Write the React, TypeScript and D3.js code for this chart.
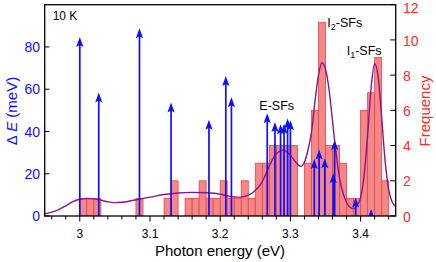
import React from "react";
import * as d3 from "d3";

// Histogram bins (start energy, eV) and counts (right axis, Frequency)
const binStarts = [3.00, 3.01, 3.02, 3.08, 3.12, 3.13, 3.15, 3.16, 3.17, 3.18, 3.19, 3.20, 3.21, 3.22, 3.23, 3.24, 3.25, 3.26, 3.27, 3.28, 3.29, 3.30, 3.32, 3.33, 3.34, 3.35, 3.36, 3.37, 3.38, 3.39, 3.40, 3.41, 3.42, 3.43];
const binCounts = [1, 1, 1, 1, 1, 2, 1, 1, 2, 1, 1, 2, 1, 1, 2, 1, 3, 3, 4, 4, 4, 4, 3, 6, 11, 4, 4, 3, 1, 1, 6, 7, 9, 2];
const binWidth = 0.01;

// Smoothed distribution curve (eV, Frequency)
const curveE = [2.95, 2.96, 2.97, 2.98, 2.99, 3.00, 3.01, 3.02, 3.03, 3.04, 3.05, 3.06, 3.07, 3.08, 3.09, 3.10, 3.12, 3.14, 3.16, 3.18, 3.20, 3.21, 3.22, 3.23, 3.24, 3.25, 3.26, 3.27, 3.28, 3.29, 3.30, 3.31, 3.315, 3.32, 3.325, 3.33, 3.335, 3.34, 3.345, 3.35, 3.355, 3.36, 3.365, 3.37, 3.375, 3.38, 3.385, 3.39, 3.395, 3.40, 3.405, 3.41, 3.415, 3.42, 3.425, 3.43, 3.435, 3.44, 3.445, 3.45];
const curveF = [0.12, 0.22, 0.36, 0.58, 0.82, 0.95, 0.99, 0.97, 0.9, 0.8, 0.76, 0.78, 0.84, 0.92, 1.0, 1.07, 1.22, 1.31, 1.34, 1.32, 1.24, 1.15, 1.08, 1.07, 1.18, 1.45, 1.95, 2.85, 3.55, 3.74, 3.45, 2.95, 2.82, 3.05, 3.75, 4.75, 6.5, 8.0, 8.7, 8.35, 7.2, 5.4, 3.6, 2.15, 1.3, 0.78, 0.5, 0.42, 0.6, 1.05, 2.3, 4.6, 7.3, 8.65, 7.9, 5.6, 3.1, 1.5, 0.8, 0.55];

// Transitions (eV, Delta E in meV)
const arrowE = [3.0, 3.027, 3.085, 3.13, 3.184, 3.208, 3.216, 3.267, 3.278, 3.286, 3.291, 3.296, 3.300, 3.334, 3.341, 3.349, 3.361, 3.363, 3.393, 3.415];
const arrowDE = [84.7, 58.4, 88.9, 53.7, 45.5, 66.3, 56.2, 48.6, 44.5, 43.4, 43.6, 46.2, 45.3, 27, 31.5, 27.3, 20.2, 36, 8.7, 3.3];

const xTicks = [3.0, 3.1, 3.2, 3.3, 3.4];
const xTickLabels = ["3", "3.1", "3.2", "3.3", "3.4"];
const leftTicks = [0, 20, 40, 60, 80];
const rightTicks = [0, 2, 4, 6, 8, 10, 12];

const W = 436, H = 262;
const L = 44.7, R = 395.7, T = 4.7, B = 216;
const FONT = "'Liberation Sans', Arial, Helvetica, sans-serif";
const BLUE = "#0f0fff";
const RED = "#ff2a2a";
const PURPLE = "#8a158a";

export default function App() {
  const x = d3.scaleLinear().domain([2.95, 3.45]).range([L, R]);
  const yL = d3.scaleLinear().domain([0, 100]).range([B, T]);
  const yR = d3.scaleLinear().domain([0, 12]).range([B, T]);

  const minorTicks = d3.range(2.96, 3.4501, 0.02).map((v) => +v.toFixed(2));
  const line = d3
    .line<number>()
    .x((_, i) => x(curveE[i]))
    .y((d) => yR(d))
    .curve(d3.curveMonotoneX);

  return (
    <svg width={W} height={H} style={{ position: "absolute", left: 0, top: 0, background: "#fff" }} fontFamily={FONT}>
      <defs>
        <clipPath id="plot">
          <rect x={L} y={T} width={R - L} height={B - T} />
        </clipPath>
      </defs>
      <g clipPath="url(#plot)">
        {binStarts.map((s, i) => (
          <rect
            key={i}
            x={x(s)}
            y={yR(binCounts[i])}
            width={x(s + binWidth) - x(s)}
            height={B - yR(binCounts[i])}
            fill="#f08a8a"
            stroke="#ff3b3b"
            strokeWidth={0.8}
          />
        ))}
        <path d={line(curveF) || ""} fill="none" stroke={PURPLE} strokeWidth={1.4} />
        {arrowE.map((e, i) => {
          const cx = x(e);
          const tip = yL(arrowDE[i]);
          return (
            <g key={i}>
              <line x1={cx} x2={cx} y1={B} y2={tip + 6} stroke={BLUE} strokeWidth={1.7} />
              <path
                d={`M${cx},${tip} L${cx + 3.6},${tip + 10} L${cx},${tip + 8} L${cx - 3.6},${tip + 10} Z`}
                fill={BLUE}
              />
            </g>
          );
        })}
      </g>

      {/* frame */}
      <rect x={L} y={T} width={R - L} height={B - T} fill="none" stroke="#000" strokeWidth={1.3} />

      {/* bottom ticks */}
      {xTicks.map((t, i) => (
        <g key={"xt" + i}>
          <line x1={x(t)} x2={x(t)} y1={B} y2={B + 5.5} stroke="#000" strokeWidth={1} />
          <text x={x(t)} y={238} textAnchor="middle" fontSize={12} fill="#000">
            {xTickLabels[i]}
          </text>
        </g>
      ))}
      {minorTicks
        .filter((t) => !xTicks.some((m) => Math.abs(m - t) < 1e-6))
        .map((t, i) => (
          <line key={"mx" + i} x1={x(t)} x2={x(t)} y1={B} y2={B + 3.5} stroke="#000" strokeWidth={1} />
        ))}

      {/* left ticks */}
      {leftTicks.map((t, i) => (
        <g key={"lt" + i}>
          <line x1={L} x2={L + 4.7} y1={yL(t)} y2={yL(t)} stroke="#000" strokeWidth={1} />
          <text x={40} y={yL(t)} dy="0.36em" textAnchor="end" fontSize={14} fill={BLUE}>
            {t}
          </text>
        </g>
      ))}

      {/* right ticks */}
      {rightTicks.map((t, i) => (
        <g key={"rt" + i}>
          <line x1={R - 5.5} x2={R} y1={yR(t)} y2={yR(t)} stroke="#000" strokeWidth={1} />
          <text x={403} y={Math.max(yR(t) + 5.6, 12.9)} textAnchor="start" fontSize={14} fill={RED}>
            {t}
          </text>
        </g>
      ))}

      {/* axis titles */}
      <text x={220} y={256} textAnchor="middle" fontSize={15} fill="#000">
        Photon energy (eV)
      </text>
      <text transform={`translate(17,111) rotate(-90)`} textAnchor="middle" fontSize={15} fill={BLUE}>
        {"\u0394 "}
        <tspan fontStyle="italic">E</tspan>
        {" (meV)"}
      </text>
      <text transform={`translate(430,111) rotate(-90)`} textAnchor="middle" fontSize={15} fill={RED}>
        Frequency
      </text>

      {/* annotations */}
      <text x={52.7} y={20} fontSize={12} fill="#000">10 K</text>
      <text x={259.3} y={110} fontSize={12.5} fill="#000">E-SFs</text>
      <text x={327.3} y={27} fontSize={12.5} fill="#000">
        I<tspan fontSize={9} dy={3}>2</tspan>
        <tspan dy={-3}>-SFs</tspan>
      </text>
      <text x={346.7} y={55} fontSize={12.5} fill="#000">
        I<tspan fontSize={9} dy={3}>1</tspan>
        <tspan dy={-3}>-SFs</tspan>
      </text>
    </svg>
  );
}
